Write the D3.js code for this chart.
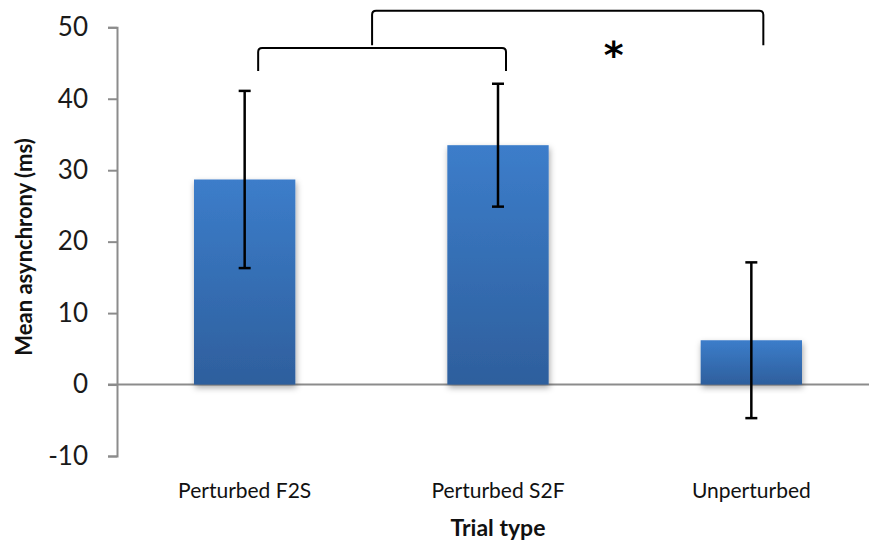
<!DOCTYPE html>
<html>
<head>
<meta charset="utf-8">
<script src="https://cdn.jsdelivr.net/npm/d3@7/dist/d3.min.js"></script>
<style>
  body { margin: 0; background: #fff; }
  svg { display: block; }
</style>
</head>
<body>
<div id="chart"></div>
<script>
// data
var trialTypes = ["Perturbed F2S", "Perturbed S2F", "Unperturbed"];
var meanAsync = [28.7, 33.5, 6.2];
var errAsync = [12.4, 8.6, 10.9];
var yTicks = [-10, 0, 10, 20, 30, 40, 50];

// significance brackets: [from, to, upper level, lower level]
var bracketFrom = ["Perturbed F2S", "bracket0"];
var bracketTo = ["Perturbed S2F", "Unperturbed"];
var bracketTop = [47.1, 52.3];
var bracketBottom = [43.9, 47.5];

var svgWidth = 869;
var svgHeight = 548;

var svg = d3.select("#chart")
  .append("svg")
  .attr("width", svgWidth)
  .attr("height", svgHeight);

var defs = svg.append("defs");

var grad = defs.append("linearGradient")
  .attr("id", "barGrad")
  .attr("x1", 0).attr("y1", 0)
  .attr("x2", 0).attr("y2", 1);
grad.append("stop").attr("offset", "0%").attr("stop-color", "#3c7dca");
grad.append("stop").attr("offset", "100%").attr("stop-color", "#2e5f9d");

var shadow = defs.append("filter")
  .attr("id", "shadow")
  .attr("x", "-20%").attr("y", "-20%")
  .attr("width", "140%").attr("height", "140%");
shadow.append("feDropShadow")
  .attr("dx", 1).attr("dy", 3)
  .attr("stdDeviation", 3)
  .attr("flood-color", "#000")
  .attr("flood-opacity", 0.35);

var x = d3.scaleBand()
  .domain(trialTypes)
  .range([118, 878])
  .paddingInner(0.6)
  .paddingOuter(0.3);

var y = d3.scaleLinear()
  .domain([-10, 50])
  .range([456, 27.3]);

var cx = d => x(d) + x.bandwidth() / 2;

// zero line
svg.append("line")
  .attr("x1", 108)
  .attr("x2", svgWidth)
  .attr("y1", y(0))
  .attr("y2", y(0))
  .attr("stroke", "#8c8c8c")
  .attr("stroke-width", 2);

// y axis
var yAxis = svg.append("g")
  .attr("transform", "translate(117,0)")
  .call(d3.axisLeft(y)
    .tickValues(yTicks)
    .tickFormat(d => String(d))
    .tickSize(9)
    .tickSizeOuter(9)
    .tickPadding(20));

yAxis.select(".domain")
  .attr("stroke", "#8c8c8c")
  .attr("stroke-width", 2);
yAxis.selectAll(".tick line")
  .attr("stroke", "#8c8c8c")
  .attr("stroke-width", 2);
yAxis.selectAll(".tick text")
  .attr("fill", "#1a1a1a")
  .attr("font-family", "Lato, 'Open Sans', sans-serif")
  .attr("font-size", "26px");

// bars
svg.selectAll(".bar")
  .data(trialTypes)
  .enter()
  .append("rect")
  .attr("class", "bar")
  .attr("x", d => x(d))
  .attr("width", x.bandwidth())
  .attr("y", (d, i) => y(meanAsync[i]))
  .attr("height", (d, i) => y(0) - y(meanAsync[i]))
  .attr("fill", "url(#barGrad)")
  .attr("filter", "url(#shadow)");

// error bars
var errGroup = svg.selectAll(".err")
  .data(trialTypes)
  .enter()
  .append("g")
  .attr("class", "err")
  .attr("stroke", "#000")
  .attr("stroke-width", 2.5);

errGroup.append("line")
  .attr("x1", d => cx(d))
  .attr("x2", d => cx(d))
  .attr("y1", (d, i) => y(meanAsync[i] + errAsync[i]))
  .attr("y2", (d, i) => y(meanAsync[i] - errAsync[i]));

errGroup.append("line")
  .attr("x1", d => cx(d) - 6)
  .attr("x2", d => cx(d) + 6)
  .attr("y1", (d, i) => y(meanAsync[i] + errAsync[i]))
  .attr("y2", (d, i) => y(meanAsync[i] + errAsync[i]));

errGroup.append("line")
  .attr("x1", d => cx(d) - 6)
  .attr("x2", d => cx(d) + 6)
  .attr("y1", (d, i) => y(meanAsync[i] - errAsync[i]))
  .attr("y2", (d, i) => y(meanAsync[i] - errAsync[i]));

// brackets
var bracketEnds = [];
function bracketPath(x0, x1, yTop, yBot) {
  var r = 4;
  return "M" + x0 + "," + yBot +
    "L" + x0 + "," + (yTop + r) +
    "Q" + x0 + "," + yTop + " " + (x0 + r) + "," + yTop +
    "L" + (x1 - r) + "," + yTop +
    "Q" + x1 + "," + yTop + " " + x1 + "," + (yTop + r) +
    "L" + x1 + "," + yBot;
}

bracketFrom.forEach(function (from, i) {
  var x0 = from === "bracket0"
    ? (bracketEnds[0][0] + bracketEnds[0][1]) / 2 - 10
    : cx(from) + 13.5;
  var x1 = cx(bracketTo[i]) + (i === 0 ? 8 : 12);
  bracketEnds.push([x0, x1]);
  svg.append("path")
    .attr("d", bracketPath(x0, x1, y(bracketTop[i]), y(bracketBottom[i])))
    .attr("fill", "none")
    .attr("stroke", "#000")
    .attr("stroke-width", 2);
});

// significance star
svg.append("text")
  .attr("x", (bracketEnds[1][0] + bracketEnds[1][1]) / 2 + 46)
  .attr("y", y(bracketBottom[1]) + 23)
  .attr("text-anchor", "middle")
  .attr("font-family", "'DejaVu Sans', sans-serif")
  .attr("font-weight", "bold")
  .attr("font-size", "38px")
  .text("*");

// x category labels
svg.selectAll(".xlabel")
  .data(trialTypes)
  .enter()
  .append("text")
  .attr("class", "xlabel")
  .attr("x", d => cx(d))
  .attr("y", 498)
  .attr("text-anchor", "middle")
  .attr("font-family", "Lato, 'Open Sans', sans-serif")
  .attr("font-size", "21px")
  .attr("fill", "#111")
  .text(d => d);

// axis titles
svg.append("text")
  .attr("x", cx(trialTypes[1]))
  .attr("y", 536)
  .attr("text-anchor", "middle")
  .attr("font-family", "Lato, 'Open Sans', sans-serif")
  .attr("font-weight", "bold")
  .attr("font-size", "23px")
  .attr("fill", "#111")
  .text("Trial type");

svg.append("text")
  .attr("transform", "translate(32,247) rotate(-90)")
  .attr("text-anchor", "middle")
  .attr("font-family", "Lato, 'Open Sans', sans-serif")
  .attr("font-weight", "bold")
  .attr("font-size", "22px")
  .attr("fill", "#111")
  .text("Mean asynchrony (ms)");
</script>
</body>
</html>
